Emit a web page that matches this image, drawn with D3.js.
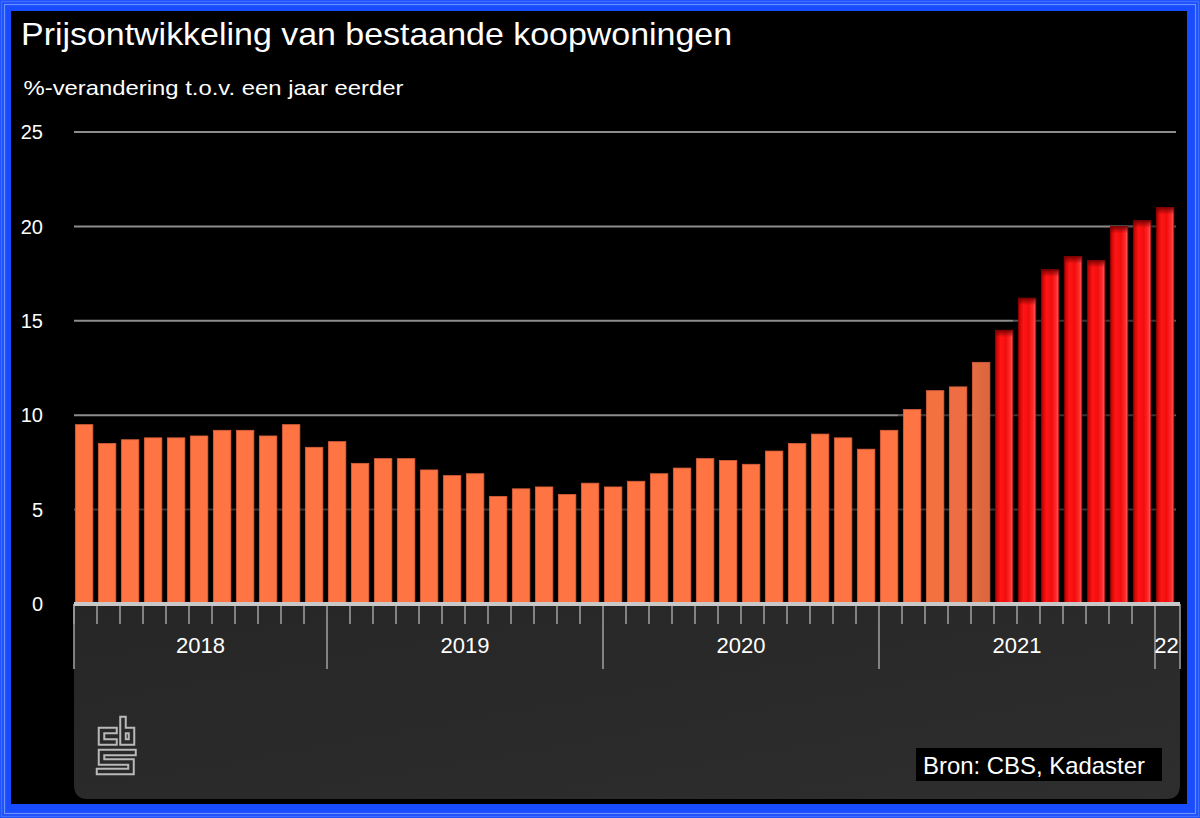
<!DOCTYPE html>
<html>
<head>
<meta charset="utf-8">
<script src="https://cdn.jsdelivr.net/npm/d3@7/dist/d3.min.js"></script>
<style>
  html, body { margin: 0; padding: 0; background: #000; }
  svg { display: block; font-family: "Liberation Sans", Arial, sans-serif; }
</style>
</head>
<body>
<svg id="chart" width="1200" height="818"></svg>
<script>
// ---------- DATA ----------
const categories = [
  "2018-02","2018-03","2018-04","2018-05","2018-06","2018-07","2018-08","2018-09","2018-10","2018-11","2018-12",
  "2019-01","2019-02","2019-03","2019-04","2019-05","2019-06","2019-07","2019-08","2019-09","2019-10","2019-11","2019-12",
  "2020-01","2020-02","2020-03","2020-04","2020-05","2020-06","2020-07","2020-08","2020-09","2020-10","2020-11","2020-12",
  "2021-01","2021-02","2021-03","2021-04","2021-05","2021-06","2021-07","2021-08","2021-09","2021-10","2021-11","2021-12",
  "2022-01"
];
const values2018 = [9.5, 8.5, 8.7, 8.8, 8.8, 8.9, 9.2, 9.2, 8.9, 9.5, 8.3];
const values2019 = [8.6, 7.45, 7.7, 7.7, 7.1, 6.8, 6.9, 5.7, 6.1, 6.2, 5.8, 6.4];
const values2020 = [6.2, 6.5, 6.9, 7.2, 7.7, 7.6, 7.4, 8.1, 8.5, 9.0, 8.8, 8.2];
const values2021 = [9.2, 10.3, 11.3, 11.5, 12.8, 14.5, 16.2, 17.7, 18.4, 18.2, 20.0, 20.3];
const values2022 = [21.0];
const values = [...values2018, ...values2019, ...values2020, ...values2021, ...values2022];

const yTicks = [0, 5, 10, 15, 20, 25];
const yearLabels = ["2018", "2019", "2020", "2021", "22"];
const yearKeys = ["2018", "2019", "2020", "2021", "2022"];
const highlightFrom = "2021-06";

const title = "Prijsontwikkeling van bestaande koopwoningen";
const subtitle = "%-verandering t.o.v. een jaar eerder";
const source = "Bron: CBS, Kadaster";

// ---------- LAYOUT ----------
const svg = d3.select("#chart");
const W = 1200, H = 818;
const left = 74, right = 1178, axisEnd = 1180;
const y0 = 604, yTop = 132;

const x = d3.scaleBand().domain(categories).range([left, right]).paddingInner(0.24).paddingOuter(0.12);
const y = d3.scaleLinear().domain([0, 25]).range([y0, yTop]);
const step = x.step(), bw = x.bandwidth();
const boundary = d => x(d) - (step - bw) / 2;   // left edge of a month slot
const barShift = -1.4;

const defs = svg.append("defs");

// Red bar gradient
const rg = defs.append("linearGradient").attr("id", "redGrad").attr("x1", 0).attr("x2", 1).attr("y1", 0).attr("y2", 0);
[[0, "#a30000"], [0.1, "#d60606"], [0.3, "#ff1616"], [0.6, "#f20d0d"], [0.85, "#ff2c2c"], [1, "#ff6868"]]
  .forEach(([o, c]) => rg.append("stop").attr("offset", o).attr("stop-color", c));
const rt = defs.append("linearGradient").attr("id", "redTop").attr("x1", 0).attr("x2", 0).attr("y1", 0).attr("y2", 1);
rt.append("stop").attr("offset", 0).attr("stop-color", "#6a0000").attr("stop-opacity", 0.85);
rt.append("stop").attr("offset", 1).attr("stop-color", "#6a0000").attr("stop-opacity", 0);
const og = defs.append("linearGradient").attr("id", "orangeDark").attr("x1", 0).attr("x2", 1).attr("y1", 0).attr("y2", 0);
og.append("stop").attr("offset", 0).attr("stop-color", "#e56c43");
og.append("stop").attr("offset", 1).attr("stop-color", "#dc653c");
const pg = defs.append("linearGradient").attr("id", "panelGrad").attr("x1", 0).attr("x2", 1).attr("y1", 0).attr("y2", 1);
pg.append("stop").attr("offset", 0).attr("stop-color", "#262626");
pg.append("stop").attr("offset", 1).attr("stop-color", "#2e2e2e");

// ---------- FRAME ----------
svg.append("rect").attr("x", 0).attr("y", 0).attr("width", W).attr("height", H).attr("fill", "#1a4cff");
svg.append("rect").attr("x", 1.5).attr("y", 1.5).attr("width", W - 3).attr("height", H - 3)
  .attr("fill", "none").attr("stroke", "#3d6cff").attr("stroke-width", 1.5);
svg.append("rect").attr("x", 4.5).attr("y", 4.5).attr("width", W - 9).attr("height", H - 9)
  .attr("fill", "none").attr("stroke", "#7fa2ff").attr("stroke-width", 1.2).attr("stroke-opacity", 0.8);
svg.append("rect").attr("x", 11).attr("y", 11).attr("width", 1176).attr("height", 793).attr("fill", "#000");

// ---------- TITLES ----------
svg.append("text").attr("x", 21).attr("y", 45).attr("fill", "#fff")
  .attr("font-size", 32).attr("textLength", 711).attr("lengthAdjust", "spacingAndGlyphs").text(title);
svg.append("text").attr("x", 23.5).attr("y", 95).attr("fill", "#fff")
  .attr("font-size", 21).attr("textLength", 380).attr("lengthAdjust", "spacingAndGlyphs").text(subtitle);

// ---------- AXIS PANEL ----------
const pr = 14, pb = 799;
svg.append("path")
  .attr("d", `M${left},${y0} H${axisEnd} V${pb - pr} Q${axisEnd},${pb} ${axisEnd - pr},${pb} H${left + pr} Q${left},${pb} ${left},${pb - pr} Z`)
  .attr("fill", "url(#panelGrad)");

// ---------- GRID ----------
svg.append("g").selectAll("line").data(yTicks.filter(t => t > 0)).join("line")
  .attr("x1", left).attr("x2", 1176).attr("y1", d => y(d)).attr("y2", d => y(d))
  .attr("stroke", "#8c8c8c").attr("stroke-width", 2);

// y labels
svg.append("g").selectAll("text").data(yTicks).join("text")
  .attr("x", 43).attr("y", d => y(d)).attr("dy", "0.36em").attr("text-anchor", "end")
  .attr("fill", "#fff").attr("font-size", 20).text(d => d);

// ---------- BARS ----------
const data = categories.map((c, i) => ({ c, v: values[i], red: c >= highlightFrom }));
const g = svg.append("g").attr("transform", `translate(${barShift},0)`);

// shadows that dim the gridlines in the gaps
g.append("g").selectAll("rect").data(data).join("rect")
  .attr("x", d => x(d.c) - (step - bw)).attr("width", bw + 2 * (step - bw))
  .attr("y", d => y(d.v) + 5).attr("height", d => y0 - y(d.v) - 5)
  .attr("fill", "#000").attr("opacity", 0.38);

const darkOrange = { "2021-03": "#f3703f", "2021-04": "#ef6d42" };
g.append("g").selectAll("rect").data(data).join("rect")
  .attr("x", d => x(d.c)).attr("width", bw)
  .attr("y", d => y(d.v)).attr("height", d => y0 - y(d.v))
  .attr("fill", d => d.red ? "url(#redGrad)" : (d.c === "2021-05" ? "url(#orangeDark)" : (darkOrange[d.c] || "#ff7443")))
  .attr("stroke", d => d.red ? "#9a0000" : "#d9603a").attr("stroke-width", 0.8);

g.append("g").selectAll("rect").data(data.filter(d => d.red)).join("rect")
  .attr("x", d => x(d.c)).attr("width", bw)
  .attr("y", d => y(d.v)).attr("height", 7)
  .attr("fill", "url(#redTop)");

// ---------- X AXIS ----------
const ax = svg.append("g");
ax.selectAll("line.minor").data(categories.filter(c => !c.endsWith("-01"))).join("line")
  .attr("class", "minor")
  .attr("x1", d => boundary(d)).attr("x2", d => boundary(d)).attr("y1", y0).attr("y2", 624)
  .attr("stroke", "#9a9a9a").attr("stroke-width", 1.6);
const sepCats = categories.filter(c => c.endsWith("-01"));
ax.selectAll("line.major").data(sepCats).join("line")
  .attr("class", "major")
  .attr("x1", d => boundary(d)).attr("x2", d => boundary(d)).attr("y1", y0).attr("y2", 669)
  .attr("stroke", "#9a9a9a").attr("stroke-width", 1.6);
[left, axisEnd].forEach(xx => ax.append("line").attr("x1", xx).attr("x2", xx).attr("y1", y0).attr("y2", 669)
  .attr("stroke", "#9a9a9a").attr("stroke-width", 1.6));
ax.append("line").attr("x1", left).attr("x2", axisEnd).attr("y1", y0).attr("y2", y0)
  .attr("stroke", "#c8c8c8").attr("stroke-width", 4);
ax.selectAll("text").data(yearKeys).join("text")
  .attr("x", (k, i) => {
    const cs = categories.filter(c => c.startsWith(k));
    const a = boundary(cs[0]);
    const b = boundary(cs[cs.length - 1]) + step;
    return (a + b) / 2;
  })
  .attr("y", 653).attr("text-anchor", "middle").attr("fill", "#fff").attr("font-size", 22)
  .text((k, i) => yearLabels[i]);

// ---------- LOGO ----------
const logo = svg.append("g").attr("fill", "none").attr("stroke-linejoin", "miter").attr("stroke-linecap", "square");
const logoPaths = [
  "M114,730.5 H101.5 V742 H114",
  "M123,719.5 V742 H131.5 V730.5 H123",
  "M133,752.5 H101.5 V762 H131 V771.5 H99.5"
];
logo.selectAll("path.o").data(logoPaths).join("path").attr("class", "o").attr("d", d => d)
  .attr("stroke", "#b9b9b9").attr("stroke-width", 7.5);
logo.selectAll("path.i").data(logoPaths).join("path").attr("class", "i").attr("d", d => d)
  .attr("stroke", "#292929").attr("stroke-width", 3.5);

// ---------- SOURCE ----------
svg.append("rect").attr("x", 916).attr("y", 748).attr("width", 246).attr("height", 33).attr("fill", "#000");
svg.append("text").attr("x", 923).attr("y", 774).attr("fill", "#fff").attr("font-size", 24)
  .attr("textLength", 222).attr("lengthAdjust", "spacingAndGlyphs").text(source);
</script>
</body>
</html>
